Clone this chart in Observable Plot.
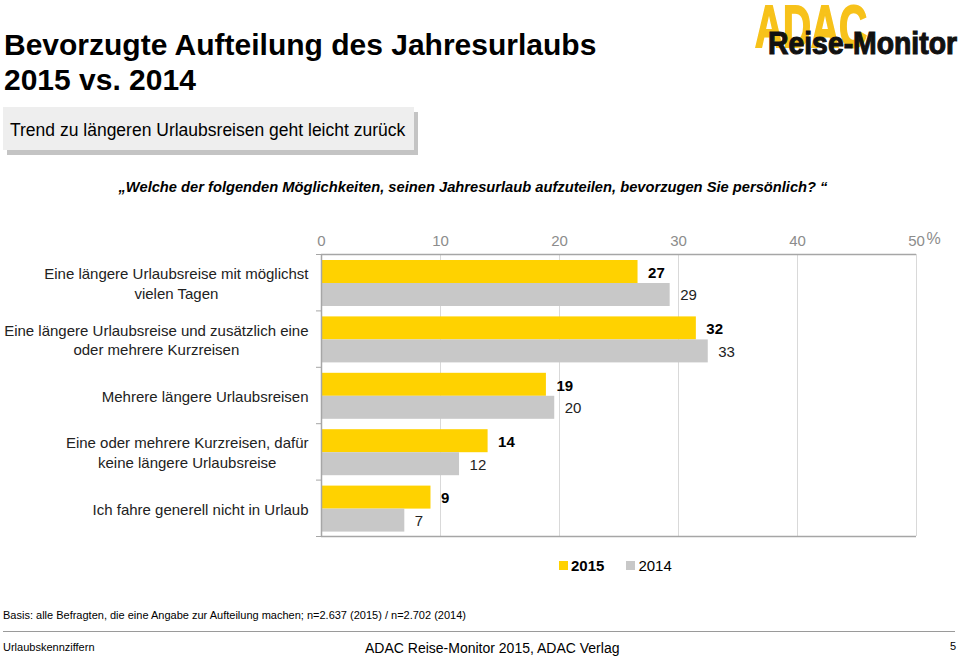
<!DOCTYPE html>
<html>
<head>
<meta charset="utf-8">
<script src="https://cdn.jsdelivr.net/npm/d3@7"></script>
<script src="https://cdn.jsdelivr.net/npm/@observablehq/plot@0.6"></script>
<style>
  html, body { margin: 0; padding: 0; background: #fff; }
  body { font-family: "Liberation Sans", Arial, sans-serif; color: #000; }
  #page { position: relative; width: 960px; height: 657px; overflow: hidden; }
  .abs { position: absolute; white-space: nowrap; }
  #title { left: 4px; top: 27px; font-size: 30px; font-weight: bold; line-height: 35px; }
  #subbox { left: 3px; top: 107px; width: 411px; height: 43px; background: #eeeeee; box-shadow: 4px 5px 0 #c4c4c4; }
  #subtitle { left: 10px; top: 120px; font-size: 17.5px; }
  #question { left: 0; width: 946px; text-align: center; top: 179px; font-size: 14.7px; font-weight: bold; font-style: italic; }
  #chart { left: 0; top: 200px; }
  #legend { left: 559px; top: 557px; font-size: 15px; display: flex; align-items: center; }
  .sw { display: inline-block; width: 9px; height: 9px; margin-right: 3px; }
  #basis { left: 3px; top: 609px; font-size: 11px; }
  #rule { left: 3px; top: 631px; width: 952px; height: 0; border-top: 1.5px solid #9a9a9a; }
  #footl { left: 3px; top: 641px; font-size: 11px; }
  #footc { left: 365px; top: 640px; font-size: 14px; }
  #footr { left: 950px; top: 640px; font-size: 11px; }
  #logo { left: 748px; top: 0; }
</style>
</head>
<body>
<div id="page">
  <div id="title" class="abs">Bevorzugte Aufteilung des Jahresurlaubs<br>2015 vs. 2014</div>
  <svg id="logo" class="abs" width="212" height="60">
    <text x="7" y="47" font-size="60" font-weight="bold" fill="#f7c21a" stroke="#f7c21a" stroke-width="2" textLength="112" lengthAdjust="spacingAndGlyphs">ADAC</text>
    <text x="20" y="53.5" font-size="31" font-weight="bold" fill="#111" stroke="#111" stroke-width="1.1" textLength="189" lengthAdjust="spacingAndGlyphs">Reise-Monitor</text>
  </svg>
  <div id="subbox" class="abs"></div>
  <div id="subtitle" class="abs">Trend zu längeren Urlaubsreisen geht leicht zurück</div>
  <div id="question" class="abs">„Welche der folgenden Möglichkeiten, seinen Jahresurlaub aufzuteilen, bevorzugen Sie persönlich? “</div>
  <div id="chart" class="abs"></div>
  <div id="legend" class="abs"></div>
  <div id="basis" class="abs">Basis: alle Befragten, die eine Angabe zur Aufteilung machen; n=2.637 (2015) / n=2.702 (2014)</div>
  <div id="rule" class="abs"></div>
  <div id="footl" class="abs">Urlaubskennziffern</div>
  <div id="footc" class="abs">ADAC Reise-Monitor 2015, ADAC Verlag</div>
  <div id="footr" class="abs">5</div>
</div>
<script>
// ---- data ----
const categories = [
  "Eine längere Urlaubsreise mit möglichst\nvielen Tagen",
  "Eine längere Urlaubsreise und zusätzlich eine\noder mehrere Kurzreisen",
  "Mehrere längere Urlaubsreisen",
  "Eine oder mehrere Kurzreisen, dafür\nkeine längere Urlaubsreise",
  "Ich fahre generell nicht in Urlaub"
];
const values2015 = [26.6, 31.5, 18.9, 14.0, 9.2];
const values2014 = [29.3, 32.5, 19.6, 11.6, 7.0];
const labels2015 = [27, 32, 19, 14, 9];
const labels2014 = [29, 33, 20, 12, 7];
const xTicks = [0, 10, 20, 30, 40, 50];
const seriesNames = ["2015", "2014"];
const colors = ["#ffd200", "#c8c8c8"];

// ---- build rows ----
const rows2015 = categories.map((c, i) => ({i, v: values2015[i], label: labels2015[i]}));
const rows2014 = categories.map((c, i) => ({i, v: values2014[i], label: labels2014[i]}));
const boundaries = d3.range(categories.length + 1);

// measure label widths to center multi-line labels in a right-aligned block
const ctx = document.createElement("canvas").getContext("2d");
ctx.font = "15px 'Liberation Sans', Arial, sans-serif";
const catMarks = categories.map((c, i) => {
  const w = d3.max(c.split("\n"), s => ctx.measureText(s).width);
  return Plot.text([{i, c}], {
    x: () => 0, y: d => d.i + 0.5, text: "c",
    textAnchor: "middle", dx: -13 - w / 2, lineHeight: 1.33,
    fontSize: 15, fill: "#222"
  });
});

const chart = Plot.plot({
  width: 960,
  height: 350,
  marginLeft: 321,
  marginRight: 44,
  marginTop: 54,
  marginBottom: 14,
  style: {fontFamily: "'Liberation Sans', Arial, sans-serif", fontSize: "15px", overflow: "visible", background: "transparent"},
  x: {domain: [0, 50]},
  y: {domain: [0, categories.length], reverse: true},
  marks: [
    Plot.ruleX(xTicks.slice(1), {y1: 0, y2: categories.length, stroke: "#d9d9d9", strokeWidth: 1}),
    Plot.rect(rows2015, {x1: () => 0, x2: "v", y1: "i", y2: d => d.i + 1, fill: colors[0], insetTop: 6, insetBottom: 27.4}),
    Plot.rect(rows2014, {x1: () => 0, x2: "v", y1: "i", y2: d => d.i + 1, fill: colors[1], insetTop: 29, insetBottom: 4.4}),
    Plot.ruleY([0, categories.length], {x1: 0, x2: 50, stroke: "#a6a6a6", strokeWidth: 1.5}),
    Plot.ruleX([0], {y1: 0, y2: categories.length, stroke: "#a6a6a6", strokeWidth: 1.5}),
    Plot.axisY(boundaries, {anchor: "left", tickSize: 5, tickFormat: () => "", stroke: "#a6a6a6", label: null}),
    Plot.axisX(xTicks, {anchor: "top", tickSize: 0, tickPadding: 9, fill: "#8c8c8c", fontSize: 15, label: null}),
    Plot.text(["%"], {x: () => 50, frameAnchor: "top", dx: 17, dy: -22, text: d => d, fill: "#8c8c8c", fontSize: 16}),
    ...catMarks,
    Plot.text(rows2015, {x: "v", y: d => d.i + 0.5, text: "label", dx: 10, dy: -9.7, textAnchor: "start", fontWeight: "bold", fontSize: 15, fill: "#000"}),
    Plot.text(rows2014, {x: "v", y: d => d.i + 0.5, text: "label", dx: 10, dy: 12.8, textAnchor: "start", fontSize: 15, fill: "#222"})
  ]
});
document.getElementById("chart").appendChild(chart);

// legend
const legend = document.getElementById("legend");
seriesNames.forEach((name, k) => {
  const item = document.createElement("span");
  item.style.display = "inline-flex";
  item.style.alignItems = "center";
  item.style.marginRight = k === 0 ? "22px" : "0";
  item.innerHTML = `<span class="sw" style="background:${colors[k]}"></span><span style="font-weight:${k === 0 ? "bold" : "normal"}">${name}</span>`;
  legend.appendChild(item);
});
</script>
</body>
</html>
